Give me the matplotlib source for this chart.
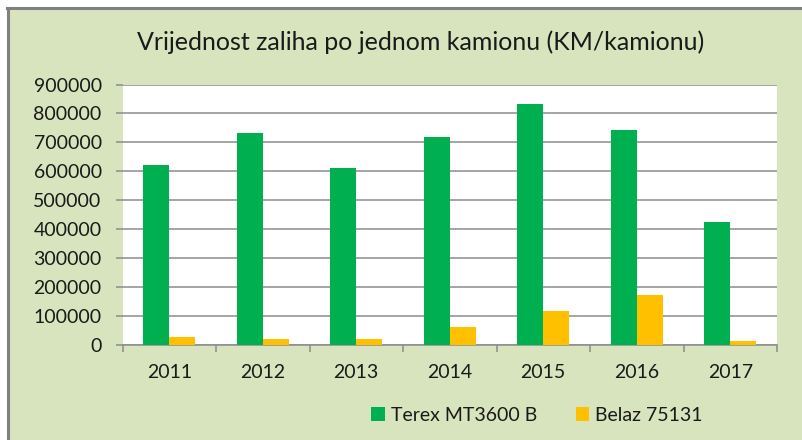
import numpy as np
import matplotlib.pyplot as plt
from matplotlib.patches import Rectangle, Patch
from matplotlib.lines import Line2D

# podaci očitani sa grafikona
godine = ['2011', '2012', '2013', '2014', '2015', '2016', '2017']
terex = [622000, 733000, 612000, 720000, 832000, 744000, 424000]
belaz = [29000, 21000, 21000, 63000, 118000, 173000, 14000]

plt.rcParams['font.family'] = ['Lato', 'DejaVu Sans']

fig = plt.figure(figsize=(8.02, 4.4), dpi=100)
fig.patch.set_facecolor('white')

# pozadina grafikona sa sivim rubom (lijevo i gore)
fig.patches.append(Rectangle((7 / 802, 0), 1, 1 - 8 / 440, transform=fig.transFigure,
                             facecolor='#D8E4BD', edgecolor='none', zorder=-2))
fig.lines.append(Line2D([8 / 802, 8 / 802], [0, 1 - 8 / 440], transform=fig.transFigure,
                        color='#808080', lw=2.2, zorder=-1))
fig.lines.append(Line2D([7 / 802, 1], [1 - 8.5 / 440, 1 - 8.5 / 440], transform=fig.transFigure,
                        color='#808080', lw=2.2, zorder=-1))

ax = fig.add_axes([122.5 / 802, 1 - 345 / 440, (777 - 122.5) / 802, (345 - 84.5) / 440])
ax.set_zorder(2)
ax.set_facecolor('white')

x = np.arange(len(godine))
w = 0.28
ax.bar(x - w / 2, terex, w, color='#00B050', zorder=3)
ax.bar(x + w / 2, belaz, w, color='#FFC000', zorder=3)

ax.set_xlim(-0.5, len(godine) - 0.5)
ax.set_ylim(0, 900000)
ax.set_yticks(np.arange(0, 900001, 100000))
ax.set_yticklabels([f'{v}' for v in range(0, 900001, 100000)])
ax.yaxis.grid(True, color='#8C8C8C', lw=1.1, zorder=1)
ax.set_axisbelow(True)

ax.set_xticks(x)
ax.set_xticklabels(godine)
ax.set_xticks(np.arange(-0.5, len(godine)), minor=True)
ax.tick_params(axis='x', which='major', length=0, pad=14, labelsize=14, colors='#1a1a1a')
ax.tick_params(axis='x', which='minor', length=5, width=1.1, color='#8C8C8C', direction='out')
ax.tick_params(axis='y', length=5, width=1.1, color='#8C8C8C', pad=10, labelsize=14,
               labelcolor='#1a1a1a')

for s in ['top', 'right', 'left']:
    ax.spines[s].set_visible(False)
ax.spines['bottom'].set_color('#8C8C8C')
ax.spines['bottom'].set_linewidth(1.1)

fig.text(421 / 802, 1 - 42 / 440, 'Vrijednost zaliha po jednom kamionu (KM/kamionu)',
         ha='center', va='center', fontsize=18, color='#1a1a1a')

handles = [Patch(facecolor='#00B050', label='Terex MT3600 B'),
           Patch(facecolor='#FFC000', label='Belaz 75131')]
fig.legend(handles=handles, loc='center', bbox_to_anchor=(537 / 802, 1 - 415 / 440), ncol=2,
           frameon=False, fontsize=14, handlelength=0.7, handleheight=0.7,
           handletextpad=0.3, columnspacing=2.0, labelcolor='#1a1a1a')

fig.savefig('out.png', dpi=100, facecolor=fig.get_facecolor())
